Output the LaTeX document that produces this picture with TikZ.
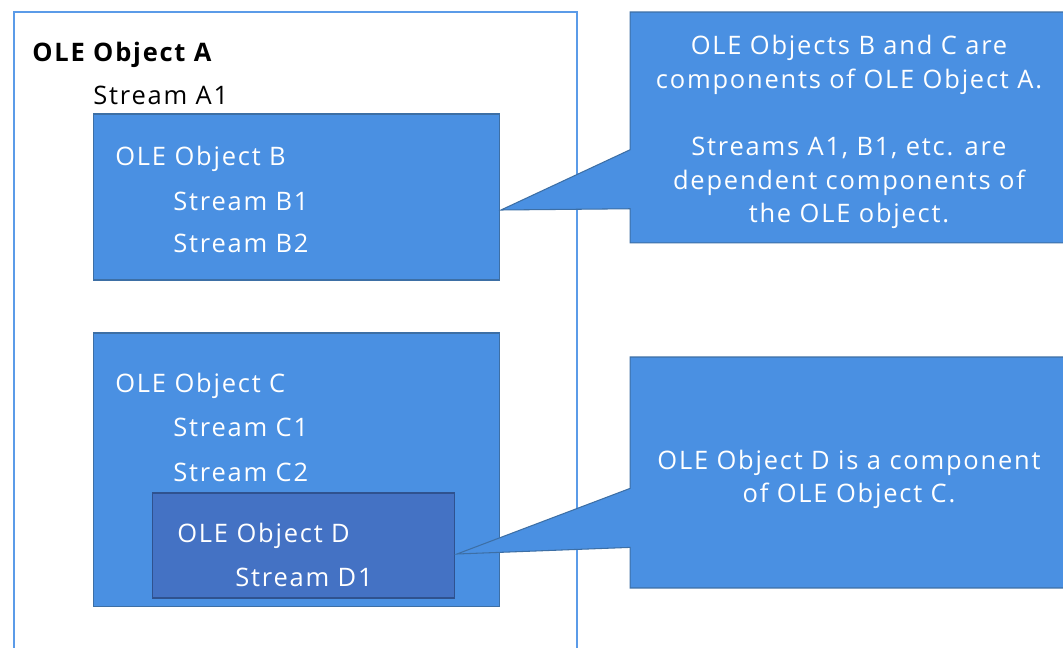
\documentclass[tikz,border=0pt]{standalone}
\usepackage{fontspec}
\setmainfont{Open Sans}[LetterSpace=7]
\usetikzlibrary{positioning,shapes.callouts}
\definecolor{boxfill}{HTML}{4A90E2}
\definecolor{boxline}{HTML}{3D6FA5}
\definecolor{innerfill}{HTML}{4472C4}
\definecolor{innerline}{HTML}{2F528F}
\definecolor{frameline}{HTML}{5B9BE8}
\newcommand{\olefont}{\fontsize{14.5}{19.2}\selectfont}

\begin{document}
\begin{tikzpicture}[x=0.02cm, y=-0.02cm,
        framebox/.style={rectangle, draw=frameline, line width=0.8pt,
        fill=white, inner sep=0pt},
        objbox/.style={rectangle, draw=boxline, fill=boxfill,
        line width=0.6pt, inner sep=0pt},
        innerbox/.style={rectangle, draw=innerline, fill=innerfill,
        line width=0.6pt, inner sep=0pt},
        note/.style={rectangle callout, draw=boxline, fill=boxfill,
          line width=0.6pt, minimum width=8.76cm, minimum height=4.62cm,
        callout pointer width=1.18cm, text=white, align=center,
        font=\olefont, inner sep=0pt, text depth=0.4cm},
        objtext/.style={anchor=base west, inner sep=0pt, text=white,
        font=\olefont},
      ]
      \useasboundingbox (0,0) rectangle (1063,648);

      % =================== OLE OBJECT A ===================
      \node[framebox, minimum width=11.26cm, minimum height=13.16cm]
      (objA) at (295.5,341) {};
      \node[objtext, text=black, font=\olefont\bfseries] (titleA) at
      (32,62) {OLE Object A};
      \node[objtext, text=black] (streamA1) at (93,105) {Stream A1};

      % =================== OLE OBJECT B ===================
      \node[objbox, minimum width=8.14cm, minimum height=3.32cm] (objB)
      at (296.5,197) {};
      \node[objtext] (titleB) at (115,166) {OLE Object B};
      \node[objtext] (streamB1) at (173,211) {Stream B1};
      \node[objtext] (streamB2) at (173,253) {Stream B2};

      % =================== OLE OBJECT C ===================
      \node[objbox, minimum width=8.14cm, minimum height=5.48cm] (objC)
      at (296.5,470) {};
      \node[objtext] (titleC) at (115,393) {OLE Object C};
      \node[objtext] (streamC1) at (173,437) {Stream C1};
      \node[objtext] (streamC2) at (173,482) {Stream C2};

      % =================== OLE OBJECT D ===================
      \node[innerbox, minimum width=6.06cm, minimum height=2.1cm] (objD)
      at (303.5,545.5) {};
      \node[objtext] (titleD) at (177,543) {OLE Object D};
      \node[objtext] (streamD1) at (235,587) {Stream D1};

      % =================== CALLOUTS ===================
      \coordinate (tipB) at (501,210);
      \coordinate (tipD) at (457,554);

      \node[note, text height=4.22cm, callout absolute pointer=(tipB)]
      (noteB) at (849,127.5) {OLE Objects B and C are\\
        components of OLE Object A.\\[19.2pt]
        Streams A1, B1, etc. are\\
        dependent components of\\
      the OLE object.};

      \node[note, text height=1.62cm, callout absolute pointer=(tipD)]
      (noteD) at (849,472.5) {OLE Object D is a component\\
      of OLE Object C.};

    \end{tikzpicture}
\end{document}
